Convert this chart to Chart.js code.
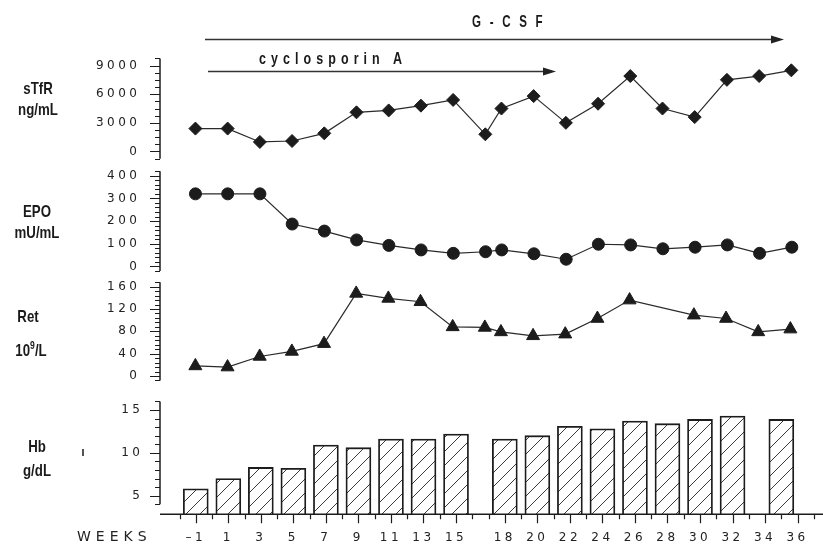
<!DOCTYPE html>
<html>
<head>
<meta charset="utf-8">
<script src="https://cdn.jsdelivr.net/npm/chart.js@4.4.1/dist/chart.umd.min.js"></script>
<style>
html, body { margin: 0; padding: 0; background: #fff; }
#wrap { position: relative; width: 823px; height: 547px; overflow: hidden; }
canvas { position: absolute; left: 0; top: 0; }
.lbl {
    position: absolute; transform: translate(-50%, -50%) scaleX(0.78);
    font-family: "Liberation Sans", Arial, sans-serif;
    font-weight: bold; font-size: 17px; color: #1a1a1a;
    white-space: nowrap; line-height: 1;
}
.sp { transform-origin: 0 50%; transform: translate(0, -50%) scaleX(0.78); }
</style>
</head>
<body>
<div id="wrap">
    <canvas id="cTfr" width="823" height="547"></canvas>
    <canvas id="cEpo" width="823" height="547"></canvas>
    <canvas id="cRet" width="823" height="547"></canvas>
    <canvas id="cHb" width="823" height="547"></canvas>

    <svg width="823" height="547" style="position:absolute;left:0;top:0">
        <line x1="205" y1="39.5" x2="773" y2="39.5" stroke="#333" stroke-width="1.6"/>
        <polygon points="771,35.5 784,39.5 771,43.5" fill="#222"/>
        <line x1="208" y1="71.5" x2="545" y2="71.5" stroke="#333" stroke-width="1.6"/>
        <polygon points="543,67.5 556,71.5 543,75.5" fill="#222"/>
    </svg>

    <div class="lbl sp" style="left:472px;top:21px;font-size:17px;letter-spacing:4px;transform:translate(0,-50%) scaleX(0.68)">G - C S F</div>
    <div class="lbl sp" style="left:259px;top:59px;font-size:16px;letter-spacing:6.5px">cyclosporin A</div>

    <div class="lbl" style="left:38px;top:88px">sTfR</div>
    <div class="lbl" style="left:38px;top:109px">ng/mL</div>
    <div class="lbl" style="left:37px;top:211px">EPO</div>
    <div class="lbl" style="left:37px;top:232px">mU/mL</div>
    <div class="lbl" style="left:28px;top:316px">Ret</div>
    <div class="lbl" style="left:31px;top:349px">10<sup style="font-size:11px;vertical-align:7px">9</sup>/L</div>
    <div class="lbl" style="left:37px;top:446px">Hb</div>
    <div class="lbl" style="left:37px;top:470px">g/dL</div>
    <div style="position:absolute;left:82px;top:449px;width:1.5px;height:7px;background:#555"></div>

    <div style="position:absolute;left:77px;top:529px;font-family:'DejaVu Sans';font-size:14px;letter-spacing:5px;color:#222;line-height:1">WEEKS</div>
</div>

<script>
// study weeks at which each marker was measured
const weeksTfr = [-1, 1, 3, 5, 7, 9, 11, 13, 15, 17, 18, 20, 22, 24, 26, 28, 30, 32, 34, 36];
const sTfrValues = [2400, 2400, 1000, 1100, 1900, 4100, 4300, 4800, 5400, 1800, 4500, 5800, 3000, 5000, 7900, 4500, 3600, 7500, 7900, 8500];

const weeksEpo = [-1, 1, 3, 5, 7, 9, 11, 13, 15, 17, 18, 20, 22, 24, 26, 28, 30, 32, 34, 36];
const epoValues = [320, 320, 320, 187, 156, 117, 93, 73, 58, 65, 73, 56, 32, 98, 95, 78, 85, 95, 58, 85];

const weeksRet = [-1, 1, 3, 5, 7, 9, 11, 13, 15, 17, 18, 20, 22, 24, 26, 30, 32, 34, 36];
const retValues = [18, 16, 35, 44, 58, 148, 139, 133, 88, 87, 79, 72, 75, 103, 136, 109, 103, 79, 84];

const weeksHb = [-1, 1, 3, 5, 7, 9, 11, 13, 15, 18, 20, 22, 24, 26, 28, 30, 32, 35];
const hbValues = [5.8, 7.0, 8.3, 8.2, 10.9, 10.6, 11.6, 11.6, 12.2, 11.6, 12.0, 13.1, 12.8, 13.7, 13.4, 13.9, 14.3, 13.9];

const weekLabels = [-1, 1, 3, 5, 7, 9, 11, 13, 15, 18, 20, 22, 24, 26, 28, 30, 32, 34, 36];
const tfrTicks = [0, 3000, 6000, 9000];
const epoTicks = [0, 100, 200, 300, 400];
const retTicks = [0, 40, 80, 120, 160];
const hbTicks = [5, 10, 15];

const INK = '#1c1c1c';

// axis line plus major / minor tick marks, drawn through the scales
const axisTicks = {
    id: 'axisTicks',
    beforeDraw(chart) {
        chart.ctx.letterSpacing = '3.5px';
    },
    afterDatasetsDraw(chart, args, o) {
        const ctx = chart.ctx;
        const a = chart.chartArea;
        const ys = chart.scales.y;
        ctx.save();
        ctx.strokeStyle = INK;
        ctx.lineWidth = 1.5;
        ctx.beginPath();
        ctx.moveTo(a.left, ys.getPixelForValue(o.from));
        ctx.lineTo(a.left, ys.getPixelForValue(o.to));
        ctx.stroke();
        ctx.lineWidth = 1.2;
        ctx.beginPath();
        for (let v = o.from; v <= o.to + 1e-6; v += o.minor) {
            const p = Math.round(ys.getPixelForValue(v)) + 0.5;
            const isMajor = o.major.some(m => Math.abs(m - v) < 1e-6);
            ctx.moveTo(a.left - (isMajor ? 10 : 5), p);
            ctx.lineTo(a.left, p);
        }
        ctx.stroke();

        if (o.x) {
            const xs = chart.scales.x;
            ctx.lineWidth = 1.5;
            ctx.beginPath();
            ctx.moveTo(a.left, a.bottom);
            ctx.lineTo(chart.width, a.bottom);
            ctx.stroke();
            ctx.lineWidth = 1.2;
            ctx.beginPath();
            for (let w = o.x.from; w <= o.x.to; w += 1) {
                const px = Math.round(xs.getPixelForValue(w)) + 0.5;
                const len = o.x.major.includes(w) ? 9 : 5;
                ctx.moveTo(px, a.bottom);
                ctx.lineTo(px, a.bottom + len);
            }
            ctx.stroke();
        }
        ctx.restore();
    }
};

function xScale(show) {
    return {
        type: 'linear',
        min: -3.2,
        max: 37.5,
        offset: false,
        display: show,
        grid: { display: false, drawTicks: false },
        border: { display: false },
        afterFit: s => { if (show) s.height = 32.7; },
        afterBuildTicks: s => { s.ticks = weekLabels.map(v => ({ value: v })); },
        ticks: {
            autoSkip: false,
            maxRotation: 0,
            padding: 16,
            color: '#222',
            font: { family: 'DejaVu Sans', size: 12 },
            callback: v => (v < 0 ? '\u2013' + Math.abs(v) : String(v))
        }
    };
}

function yScale(min, max, tickList, pad) {
    return {
        type: 'linear',
        min: min,
        max: max,
        grid: { display: false, drawTicks: false },
        border: { display: false },
        afterFit: s => { s.width = 160; },
        afterBuildTicks: s => { s.ticks = tickList.map(v => ({ value: v })); },
        ticks: {
            padding: pad,
            color: '#222',
            font: { family: 'DejaVu Sans', size: 12 },
            callback: v => String(v)
        }
    };
}

function lineChart(id, weeks, values, style, radius, top, bottom, yOpts, tickOpts) {
    return new Chart(document.getElementById(id), {
        type: 'line',
        data: {
            datasets: [{
                data: weeks.map((w, i) => ({ x: w, y: values[i] })),
                borderColor: '#2a2a2a',
                borderWidth: 1.2,
                pointStyle: style,
                pointRadius: radius,
                pointBackgroundColor: INK,
                pointBorderColor: INK,
                pointBorderWidth: 1,
                tension: 0
            }]
        },
        options: {
            responsive: false,
            animation: false,
            clip: false,
            layout: { padding: { top: top, bottom: 547 - bottom, left: 0, right: 1 } },
            plugins: { legend: { display: false }, tooltip: { enabled: false }, axisTicks: tickOpts },
            scales: { x: xScale(false), y: yOpts }
        },
        plugins: [axisTicks]
    });
}

lineChart('cTfr', weeksTfr, sTfrValues, 'rectRot', 6.5, 58.38, 158.66,
    yScale(-750, 9750, tfrTicks, 19.5),
    { from: -750, to: 9750, minor: 750, major: tfrTicks });

lineChart('cEpo', weeksEpo, epoValues, 'circle', 6, 171.15, 271.04,
    yScale(-20, 420, epoTicks, 19.5),
    { from: -20, to: 420, minor: 20, major: epoTicks });

lineChart('cRet', weeksRet, retValues, 'triangle', 7.5, 281.13, 380.46,
    yScale(-8, 170, retTicks, 19.5),
    { from: -8, to: 168, minor: 8, major: retTicks });

// diagonal hatch for the Hb bars
function hatch() {
    const s = 14;
    const c = document.createElement('canvas');
    c.width = s; c.height = s;
    const g = c.getContext('2d');
    g.fillStyle = '#fff';
    g.fillRect(0, 0, s, s);
    g.strokeStyle = '#3a3a3a';
    g.lineWidth = 1;
    g.beginPath();
    g.moveTo(0, s); g.lineTo(s, 0);
    g.moveTo(-2, 2); g.lineTo(2, -2);
    g.moveTo(s - 2, s + 2); g.lineTo(s + 2, s - 2);
    g.stroke();
    return g.createPattern(c, 'repeat');
}

new Chart(document.getElementById('cHb'), {
    type: 'bar',
    data: {
        datasets: [{
            data: weeksHb.map((w, i) => ({ x: w, y: hbValues[i] })),
            backgroundColor: hatch(),
            borderColor: INK,
            borderWidth: 1.8,
            barThickness: 25
        }]
    },
    options: {
        responsive: false,
        animation: false,
        layout: { padding: { top: 399.7, bottom: 0, left: 0, right: 1 } },
        plugins: {
            legend: { display: false },
            tooltip: { enabled: false },
            axisTicks: { from: 4, to: 16, minor: 1, major: hbTicks, x: { from: -2, to: 37, major: weekLabels } }
        },
        scales: { x: xScale(true), y: yScale(2.83, 16.2, hbTicks, 16.5) }
    },
    plugins: [axisTicks]
});
</script>
</body>
</html>
